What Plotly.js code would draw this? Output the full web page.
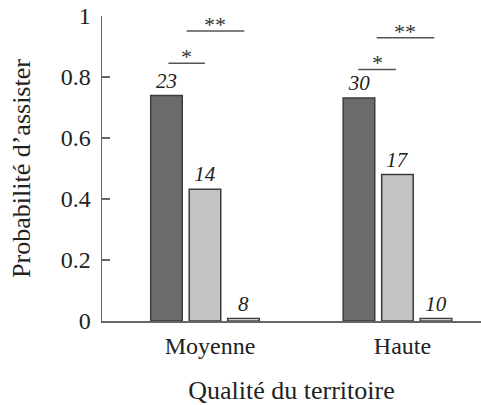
<!DOCTYPE html>
<html>
<head>
<meta charset="utf-8">
<script src="https://cdn.plot.ly/plotly-3.0.1.min.js"></script>
<style>html,body{margin:0;padding:0;background:#fff;}#chart{width:481px;height:405px;}</style>
</head>
<body>
<div id="chart"></div>
<script>
// Categories (x axis)
const categories = ['Moyenne', 'Haute'];
// Three bars per category (probabilities)
const seriesA = [0.739, 0.731];
const seriesB = [0.432, 0.480];
const seriesC = [0.008, 0.008];
// Sample sizes written above bars
const labelsA = ['23', '30'];
const labelsB = ['14', '17'];
const labelsC = ['8', '10'];
// Y ticks
const yTickVals = [0, 0.2, 0.4, 0.6, 0.8, 1];
const yTickText = ['0', '0.2', '0.4', '0.6', '0.8', '1'];
// Significance brackets: group index, start/end offset from group centre, height, label
const sigGroup = [0, 0, 1, 1];
const sigStart = [-0.19, -0.095, -0.204, -0.108];
const sigEnd = [0.0, 0.204, -0.008, 0.191];
const sigLevel = [0.845, 0.951, 0.825, 0.929];
const sigLabel = ['*', '**', '*', '**'];

const FONT = 'Liberation Serif, Times New Roman, serif';
const outline = '#3c3c3c';

function barTrace(vals, labels, fill) {
  return {
    type: 'bar', x: categories, y: vals, text: labels,
    textposition: 'outside', cliponaxis: false,
    textfont: {family: FONT, size: 21, color: '#222', style: 'italic'},
    marker: {color: fill, line: {color: outline, width: 1.5}},
    showlegend: false, hoverinfo: 'skip'
  };
}

const data = [
  barTrace(seriesA, labelsA, '#6b6b6b'),
  barTrace(seriesB, labelsB, '#c3c3c3'),
  barTrace(seriesC, labelsC, '#ffffff')
];

const shapes = [];
const annotations = [];
for (let i = 0; i < sigGroup.length; i++) {
  const x0 = sigGroup[i] + sigStart[i];
  const x1 = sigGroup[i] + sigEnd[i];
  shapes.push({type: 'line', xref: 'x', yref: 'y', x0: x0, x1: x1, y0: sigLevel[i], y1: sigLevel[i],
    line: {color: '#555', width: 1.5}});
  annotations.push({xref: 'x', yref: 'y', x: (x0 + x1) / 2, y: sigLevel[i], text: sigLabel[i],
    showarrow: false, yanchor: 'bottom', yshift: -8,
    font: {family: FONT, size: 22, color: '#333'}});
}

const layout = {
  width: 481, height: 405, autosize: false,
  margin: {l: 102, r: 0, t: 16, b: 84},
  paper_bgcolor: '#fff', plot_bgcolor: '#fff',
  barmode: 'group', bargap: 0.4, bargroupgap: 0.18,
  font: {family: FONT, color: '#222'},
  xaxis: {
    type: 'category', range: [-0.535, 1.434],
    showline: true, linecolor: '#666', linewidth: 1.5,
    ticks: '', showgrid: false, zeroline: false,
    tickfont: {family: FONT, size: 24, color: '#222'},
    ticklabelshift: 5, ticklabelstandoff: 3,
    title: {text: 'Qualité du territoire', font: {family: FONT, size: 26, color: '#222'}, standoff: 22}
  },
  yaxis: {
    range: [0, 1], tickvals: yTickVals, ticktext: yTickText,
    showline: true, linecolor: '#666', linewidth: 1.5,
    ticks: 'inside', ticklen: 8, tickcolor: '#666', tickwidth: 1.5,
    showgrid: false, zeroline: false,
    tickfont: {family: FONT, size: 24, color: '#222'},
    ticklabelstandoff: 5,
    title: {text: 'Probabilité d’assister', font: {family: FONT, size: 26, color: '#222'}, standoff: 22}
  },
  shapes: shapes,
  annotations: annotations
};

Plotly.newPlot('chart', data, layout, {displayModeBar: false, staticPlot: true});
</script>
</body>
</html>
